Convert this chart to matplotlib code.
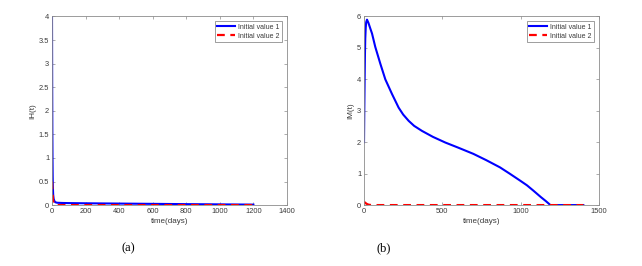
import matplotlib
matplotlib.use("Agg")
import matplotlib.pyplot as plt
import matplotlib.ticker as mticker

plt.rcParams["font.family"] = ["Liberation Sans", "DejaVu Sans"]

# Panel (a): IH(t)
t_a_blue = [0, 1, 2, 3, 4, 5, 7, 10, 15, 20, 30, 40, 60, 100, 200, 400, 600, 800, 1000, 1200]
ih_blue = [4.0, 2.6, 1.6, 1.0, 0.62, 0.4, 0.22, 0.13, 0.08, 0.06, 0.05, 0.048, 0.045, 0.042,
           0.038, 0.032, 0.026, 0.02, 0.015, 0.01]
t_a_red = [0, 1, 2, 3, 5, 7, 10, 15, 20, 30, 100, 400, 800, 1200]
ih_red = [0.5, 0.42, 0.34, 0.27, 0.16, 0.09, 0.04, 0.01, 0.003, 0.0, 0.0, 0.0, 0.0, 0.0]

# Panel (b): IM(t)
t_b_blue = [0, 2, 4, 6, 8, 11, 14, 19, 28, 40, 51, 72, 104, 136, 179, 221, 250, 285, 320, 370,
            440, 519, 600, 698, 780, 868, 930, 996, 1040, 1081, 1130, 1160, 1190, 1300, 1400]
im_blue = [2.0, 3.1, 4.0, 4.8, 5.3, 5.65, 5.82, 5.9, 5.8, 5.62, 5.46, 5.03, 4.5, 4.0, 3.53,
           3.1, 2.88, 2.68, 2.52, 2.36, 2.17, 1.99, 1.83, 1.63, 1.43, 1.2, 1.0, 0.78, 0.63,
           0.46, 0.25, 0.13, 0.0, 0.0, 0.0]
t_b_red = [0, 5, 10, 15, 25, 35, 50, 200, 600, 1000, 1400]
im_red = [0.1, 0.085, 0.065, 0.045, 0.02, 0.008, 0.0, 0.0, 0.0, 0.0, 0.0]

labels = ["Initial value 1", "Initial value 2"]

TXT = "#3a3a3a"
SPINE = "#8c8c8c"


def style_axes(ax, xlim, xticks, ylim, yticks, ylabel):
    ax.set_xlim(*xlim)
    ax.set_ylim(*ylim)
    ax.set_xticks(xticks)
    ax.set_yticks(yticks)
    ax.yaxis.set_major_formatter(mticker.FormatStrFormatter("%g"))
    ax.tick_params(direction="in", length=2.5, width=0.5, labelsize=5.4,
                   colors=SPINE, labelcolor=TXT, top=True, right=True, pad=2)
    for s in ax.spines.values():
        s.set_color(SPINE)
        s.set_linewidth(0.6)
    ax.set_xlabel("time(days)", fontsize=5.8, color=TXT, labelpad=2)
    ax.set_ylabel(ylabel, fontsize=5.8, color=TXT, labelpad=2)
    leg = ax.legend(labels, loc="upper right", fontsize=5, frameon=True, fancybox=False,
                    borderpad=0.35, handlelength=2.6, handletextpad=0.4, labelspacing=0.25,
                    borderaxespad=0.7)
    leg.get_frame().set_edgecolor("#555555")
    leg.get_frame().set_linewidth(0.5)
    for txt in leg.get_texts():
        txt.set_color(TXT)


fig = plt.figure(figsize=(6.42, 2.66), dpi=100)

ax_a = fig.add_axes([0.081, 0.229, 0.366, 0.709])
ax_a.plot(t_a_blue, ih_blue, color="#0000ff", lw=1.5)
ax_a.plot(t_a_red, ih_red, color="#ff0000", lw=1.6, ls=(0, (3.5, 2.5)))
style_axes(ax_a, (0, 1400), range(0, 1401, 200), (0, 4),
           [0, 0.5, 1, 1.5, 2, 2.5, 3, 3.5, 4], "IH(t)")

ax_b = fig.add_axes([0.567, 0.229, 0.366, 0.709])
ax_b.plot(t_b_blue, im_blue, color="#0000ff", lw=1.5)
ax_b.plot(t_b_red, im_red, color="#ff0000", lw=1.6, ls=(0, (3.5, 2.5)))
style_axes(ax_b, (0, 1500), [0, 500, 1000, 1500], (0, 6), range(0, 7), "IM(t)")

fig.text(0.200, 0.068, "(a)", fontsize=9, family="Liberation Serif", ha="center", va="center")
fig.text(0.597, 0.068, "(b)", fontsize=9, family="Liberation Serif", ha="center", va="center")

fig.savefig("out.png", dpi=100, facecolor="white")
